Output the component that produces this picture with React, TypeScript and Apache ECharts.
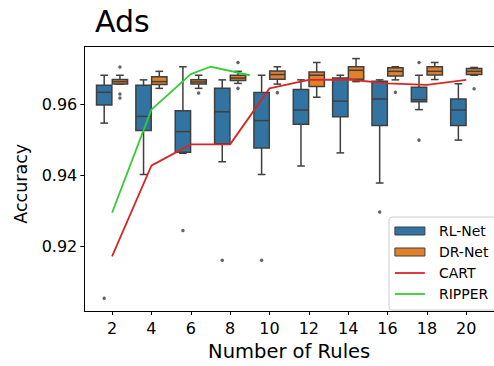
import React, { useEffect, useRef } from "react";
import * as echarts from "echarts";

// ---- data ----
const rules = [2, 4, 6, 8, 10, 12, 14, 16, 18, 20];
const yTicks = [0.92, 0.94, 0.96];

// RL-Net box statistics per rule count
const rlMin = [0.9548, 0.9403, 0.9463, 0.9439, 0.9403, 0.9427, 0.9464, 0.9379, 0.9586, 0.95];
const rlQ1 = [0.9599, 0.9527, 0.9466, 0.949, 0.9478, 0.9545, 0.9566, 0.9541, 0.9608, 0.9541];
const rlMed = [0.9635, 0.9567, 0.9524, 0.958, 0.9555, 0.9585, 0.961, 0.9616, 0.9614, 0.9585];
const rlQ3 = [0.9655, 0.9655, 0.9583, 0.9646, 0.9634, 0.9643, 0.9675, 0.9666, 0.9649, 0.9616];
const rlMax = [0.9683, 0.967, 0.9707, 0.967, 0.9683, 0.967, 0.9683, 0.967, 0.9683, 0.9659];
const rlOutliers = [
  [2, 0.9054],
  [6, 0.9245],
  [8, 0.9161],
  [10, 0.9161],
  [16, 0.9297],
  [18, 0.9719],
  [18, 0.95],
];

// DR-Net box statistics per rule count
const drMin = [0.9658, 0.9646, 0.9646, 0.966, 0.9658, 0.9621, 0.9665, 0.967, 0.9671, 0.9683];
const drQ1 = [0.9658, 0.9657, 0.9658, 0.9668, 0.9672, 0.9651, 0.9672, 0.9681, 0.9684, 0.9685];
const drMed = [0.9665, 0.9665, 0.9664, 0.9675, 0.9685, 0.9683, 0.9697, 0.9694, 0.9694, 0.9694];
const drQ3 = [0.9671, 0.9679, 0.967, 0.9683, 0.9695, 0.9692, 0.9707, 0.9704, 0.9707, 0.9702];
const drMax = [0.9683, 0.9694, 0.9683, 0.9694, 0.9707, 0.9719, 0.973, 0.9707, 0.9719, 0.9705];
const drOutliers = [
  [2, 0.9706],
  [2, 0.963],
  [2, 0.9619],
  [6, 0.9633],
  [8, 0.9719],
  [8, 0.9646],
  [10, 0.9634],
  [16, 0.9635],
  [20, 0.9645],
];

// baselines
const cartRules = [2, 4, 6, 8, 10, 12, 14, 16, 18, 20];
const cartAcc = [0.9172, 0.9428, 0.9488, 0.9488, 0.9646, 0.967, 0.9671, 0.966, 0.9656, 0.967];
const ripperRules = [2, 4, 6, 7, 9];
const ripperAcc = [0.9295, 0.9586, 0.9686, 0.9707, 0.9683];

// ---- styles ----
const FONT = "DejaVu Sans";
const BLUE = "#3274a1";
const ORANGE = "#e1812c";
const GRAY = "#3f3f3f";
const RED = "#d62728";
const GREEN = "#32cd32";

const X_MIN = 0.589;
const X_MAX = 21.411;
const Y_MIN = 0.90179;
const Y_MAX = 0.97641;

function boxSeries(name: string, color: string, offset: number, mn: number[], q1: number[], md: number[], q3: number[], mx: number[]) {
  const hw = 0.39;
  return {
    name,
    type: "custom",
    xAxisIndex: 0,
    yAxisIndex: 0,
    itemStyle: { color },
    encode: { x: 0, y: [1, 2, 3, 4, 5] },
    data: rules.map((r, i) => [r, mn[i], q1[i], md[i], q3[i], mx[i]]),
    z: 2,
    renderItem: (params: any, api: any) => {
      const x = api.value(0) + offset;
      const pLeftTop = api.coord([x - hw, api.value(4)]);
      const pRightBot = api.coord([x + hw, api.value(2)]);
      const pMed = api.coord([x, api.value(3)]);
      const yLo = api.coord([x, api.value(1)])[1];
      const yHi = api.coord([x, api.value(5)])[1];
      const xc = pMed[0];
      const xl = pLeftTop[0];
      const xr = pRightBot[0];
      const cap = (xr - xl) / 4;
      const ls = { stroke: GRAY, lineWidth: 1.5 };
      return {
        type: "group",
        children: [
          { type: "line", shape: { x1: xc, y1: pRightBot[1], x2: xc, y2: yLo }, style: ls },
          { type: "line", shape: { x1: xc, y1: pLeftTop[1], x2: xc, y2: yHi }, style: ls },
          { type: "line", shape: { x1: xc - cap, y1: yLo, x2: xc + cap, y2: yLo }, style: ls },
          { type: "line", shape: { x1: xc - cap, y1: yHi, x2: xc + cap, y2: yHi }, style: ls },
          {
            type: "rect",
            shape: { x: xl, y: pLeftTop[1], width: xr - xl, height: pRightBot[1] - pLeftTop[1] },
            style: { fill: color, stroke: GRAY, lineWidth: 1.5 },
          },
          { type: "line", shape: { x1: xl, y1: pMed[1], x2: xr, y2: pMed[1] }, style: ls },
        ],
      };
    },
  };
}

function outlierSeries(pts: number[][], offset: number) {
  return {
    type: "scatter",
    xAxisIndex: 0,
    yAxisIndex: 0,
    symbol: "circle",
    symbolSize: 3.5,
    itemStyle: { color: GRAY },
    data: pts.map((p) => [p[0] + offset, p[1]]),
    z: 3,
    silent: true,
  };
}

export default function App() {
  const ref = useRef<HTMLDivElement>(null);
  useEffect(() => {
    if (!ref.current) return;
    const chart = echarts.init(ref.current, null, { renderer: "svg" });
    const txt = { fontFamily: FONT, color: "#000" };
    chart.setOption({
      animation: false,
      backgroundColor: "#fff",
      title: {
        text: "Ads",
        left: 90,
        top: 1,
        textStyle: { ...txt, fontSize: 30, fontWeight: "normal" },
      },
      grid: { left: 84.3, top: 46.5, right: -9.4, bottom: 49, containLabel: false },
      xAxis: [
        {
          type: "value",
          min: X_MIN,
          max: X_MAX,
          position: "bottom",
          axisLine: { show: true, onZero: false, lineStyle: { color: "#000", width: 1 } },
          axisTick: { show: true, length: 4, customValues: rules, lineStyle: { color: "#000" } },
          axisLabel: { customValues: rules, fontSize: 16, margin: 9, ...txt },
          splitLine: { show: false },
          name: "Number of Rules",
          nameLocation: "middle",
          nameGap: 30,
          nameTextStyle: { ...txt, fontSize: 19.5 },
        },
        {
          type: "value",
          min: X_MIN,
          max: X_MAX,
          position: "top",
          axisLine: { show: true, onZero: false, lineStyle: { color: "#000", width: 1 } },
          axisTick: { show: false },
          axisLabel: { show: false },
          splitLine: { show: false },
        },
      ],
      yAxis: [
        {
          type: "value",
          min: Y_MIN,
          max: Y_MAX,
          position: "left",
          axisLine: { show: true, onZero: false, lineStyle: { color: "#000", width: 1 } },
          axisTick: { show: true, length: 4, customValues: yTicks, lineStyle: { color: "#000" } },
          axisLabel: {
            customValues: yTicks,
            fontSize: 16,
            margin: 7,
            formatter: (v: number) => v.toFixed(2),
            ...txt,
          },
          splitLine: { show: false },
          name: "Accuracy",
          nameLocation: "middle",
          nameGap: 54,
          nameTextStyle: { ...txt, fontSize: 17.5, padding: [0, 10, 0, 0] },
        },
      ],
      legend: {
        orient: "vertical",
        left: 389,
        top: 217,
        itemWidth: 30,
        itemHeight: 8,
        itemGap: 7,
        padding: [7, 20, 9, 5],
        borderColor: "#cccccc",
        borderWidth: 1,
        borderRadius: 3,
        backgroundColor: "rgba(255,255,255,0.8)",
        textStyle: { ...txt, fontSize: 14, lineHeight: 14, padding: [0, 0, 0, 9] },
        data: [
          { name: "RL-Net", icon: "rect", itemStyle: { color: BLUE, borderColor: GRAY, borderWidth: 1 } },
          { name: "DR-Net", icon: "rect", itemStyle: { color: ORANGE, borderColor: GRAY, borderWidth: 1 } },
          { name: "CART", itemStyle: { opacity: 0 }, lineStyle: { color: RED, width: 1.8, opacity: 1 } },
          { name: "RIPPER", itemStyle: { opacity: 0 }, lineStyle: { color: GREEN, width: 1.8, opacity: 1 } },
        ],
      },
      series: [
        boxSeries("RL-Net", BLUE, -0.4, rlMin, rlQ1, rlMed, rlQ3, rlMax),
        boxSeries("DR-Net", ORANGE, 0.4, drMin, drQ1, drMed, drQ3, drMax),
        outlierSeries(rlOutliers, -0.4),
        outlierSeries(drOutliers, 0.4),
        {
          name: "CART",
          type: "line",
          xAxisIndex: 0,
          yAxisIndex: 0,
          symbol: "none",
          showSymbol: false,
          color: RED,
          lineStyle: { color: RED, width: 1.8 },
          data: cartRules.map((r, i) => [r, cartAcc[i]]),
          z: 5,
        },
        {
          name: "RIPPER",
          type: "line",
          xAxisIndex: 0,
          yAxisIndex: 0,
          symbol: "none",
          showSymbol: false,
          color: GREEN,
          lineStyle: { color: GREEN, width: 1.8 },
          data: ripperRules.map((r, i) => [r, ripperAcc[i]]),
          z: 5,
        },
      ],
    });
    return () => chart.dispose();
  }, []);
  return (
    <div
      ref={ref}
      style={{ position: "fixed", left: 0, top: 0, width: 494, height: 366, background: "#fff" }}
    />
  );
}
